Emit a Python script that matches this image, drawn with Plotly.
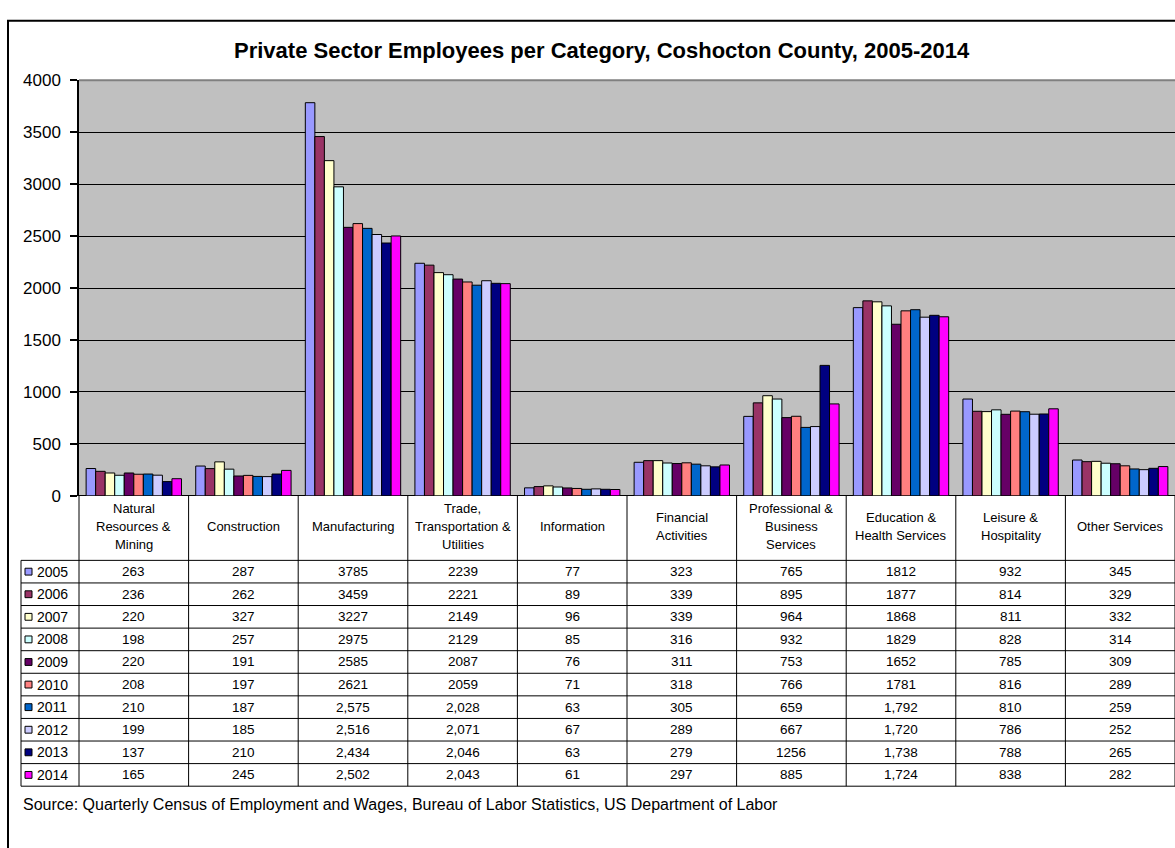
import plotly.graph_objects as go

W, H = 1175, 848

categories = [
    "Natural Resources & Mining", "Construction", "Manufacturing",
    "Trade, Transportation & Utilities", "Information", "Financial Activities",
    "Professional & Business Services", "Education & Health Services",
    "Leisure & Hospitality", "Other Services",
]
header_lines = [
    ["Natural", "Resources &", "Mining"], ["Construction"], ["Manufacturing"],
    ["Trade,", "Transportation &", "Utilities"], ["Information"],
    ["Financial", "Activities"], ["Professional &", "Business", "Services"],
    ["Education &", "Health Services"], ["Leisure &", "Hospitality"],
    ["Other Services"],
]
years = [2005, 2006, 2007, 2008, 2009, 2010, 2011, 2012, 2013, 2014]
v2005 = [263, 287, 3785, 2239, 77, 323, 765, 1812, 932, 345]
v2006 = [236, 262, 3459, 2221, 89, 339, 895, 1877, 814, 329]
v2007 = [220, 327, 3227, 2149, 96, 339, 964, 1868, 811, 332]
v2008 = [198, 257, 2975, 2129, 85, 316, 932, 1829, 828, 314]
v2009 = [220, 191, 2585, 2087, 76, 311, 753, 1652, 785, 309]
v2010 = [208, 197, 2621, 2059, 71, 318, 766, 1781, 816, 289]
v2011 = [210, 187, 2575, 2028, 63, 305, 659, 1792, 810, 259]
v2012 = [199, 185, 2516, 2071, 67, 289, 667, 1720, 786, 252]
v2013 = [137, 210, 2434, 2046, 63, 279, 1256, 1738, 788, 265]
v2014 = [165, 245, 2502, 2043, 61, 297, 885, 1724, 838, 282]
series = [v2005, v2006, v2007, v2008, v2009, v2010, v2011, v2012, v2013, v2014]
# table number formatting as printed in the source table
comma_years = [2011, 2012, 2013, 2014]
no_comma_cells = [(2013, "Professional & Business Services")]
colors = ["#9999FF", "#993366", "#FFFFCC", "#CCFFFF", "#660066",
          "#FF8080", "#0066CC", "#CCCCFF", "#000080", "#FF00FF"]

title = "Private Sector Employees per Category, Coshocton County, 2005-2014"
source = "Source: Quarterly Census of Employment and Wages, Bureau of Labor Statistics, US Department of Labor"

FONT = "Arial, Liberation Sans, sans-serif"

# layout geometry (pixels)
PL, PR = 79, 1175
PT, PB = 73, 498
TT = 564          # table data top
RH = 23.1         # row height
TL = 21           # legend column left
ncat = len(categories)
cw = (PR - PL) / ncat


def px(x):
    return x / W


def py(y):
    return 1 - y / H


fig = go.Figure()
for yr, vals, col in zip(years, series, colors):
    fig.add_trace(go.Bar(x=categories, y=vals, name=str(yr),
                         marker=dict(color=col, line=dict(color="black", width=1))))

shapes = []
annotations = []

# outer chart border
shapes.append(dict(type="rect", xref="paper", yref="paper",
                   x0=px(8), x1=px(1190), y0=py(870), y1=py(12),
                   line=dict(color="black", width=2)))
# plot area border (top gray)
shapes.append(dict(type="line", xref="paper", yref="paper",
                   x0=px(PL), x1=px(PR + 5), y0=py(PT), y1=py(PT),
                   line=dict(color="#808080", width=2)))

TB = TT + RH * len(years)
# vertical table lines
for k in range(ncat + 1):
    xk = PL + k * cw
    shapes.append(dict(type="line", xref="paper", yref="paper",
                       x0=px(xk), x1=px(xk), y0=py(PB), y1=py(TB),
                       line=dict(color="black", width=1)))
shapes.append(dict(type="line", xref="paper", yref="paper",
                   x0=px(TL), x1=px(TL), y0=py(TT), y1=py(TB),
                   line=dict(color="black", width=1)))
# horizontal table lines
for i in range(len(years) + 1):
    yy = TT + i * RH
    shapes.append(dict(type="line", xref="paper", yref="paper",
                       x0=px(TL), x1=px(PR + 5), y0=py(yy), y1=py(yy),
                       line=dict(color="black", width=1)))

# header labels (one annotation per line, Excel-like line spacing)
LS = 18.5
hc = 529
for k, lines in enumerate(header_lines):
    n = len(lines)
    for j, ln in enumerate(lines):
        yl = hc + (j - (n - 1) / 2) * LS
        annotations.append(dict(xref="paper", yref="paper", x=px(PL + (k + 0.5) * cw),
                                y=py(yl), text=ln, showarrow=False,
                                xanchor="center", yanchor="middle",
                                font=dict(family=FONT, size=13, color="black")))

# rows
for i, (yr, vals, col) in enumerate(zip(years, series, colors)):
    yc = TT + (i + 0.5) * RH
    shapes.append(dict(type="rect", xref="paper", yref="paper",
                       x0=px(25), x1=px(32), y0=py(yc + 3.5), y1=py(yc - 3.5),
                       fillcolor=col, line=dict(color="black", width=1)))
    annotations.append(dict(xref="paper", yref="paper", x=px(35), y=py(yc),
                            text=str(yr), showarrow=False, xanchor="left",
                            yanchor="middle",
                            font=dict(family=FONT, size=14, color="black")))
    for k, v in enumerate(vals):
        use_comma = yr in comma_years and (yr, categories[k]) not in no_comma_cells
        txt = f"{v:,}" if use_comma else str(v)
        annotations.append(dict(xref="paper", yref="paper", x=px(PL + (k + 0.5) * cw),
                                y=py(yc), text=txt, showarrow=False,
                                xanchor="center", yanchor="middle",
                                font=dict(family=FONT, size=13.5, color="black")))

annotations.append(dict(xref="paper", yref="paper", x=px(602), y=py(42),
                        text="<b>" + title + "</b>", showarrow=False,
                        xanchor="center", yanchor="middle",
                        font=dict(family=FONT, size=22, color="black")))
annotations.append(dict(xref="paper", yref="paper", x=px(21), y=py(814),
                        text=source, showarrow=False, xanchor="left",
                        yanchor="middle",
                        font=dict(family=FONT, size=16, color="black")))

fig.update_layout(
    width=W, height=H,
    margin=dict(l=0, r=0, t=0, b=0),
    paper_bgcolor="white",
    plot_bgcolor="#C0C0C0",
    barmode="group",
    bargap=0.13,
    bargroupgap=0,
    showlegend=False,
    shapes=shapes,
    annotations=annotations,
    xaxis=dict(domain=[px(PL), 1], range=[-0.5, ncat - 0.5],
               showticklabels=False, ticks="", showgrid=False,
               showline=False, zeroline=False, fixedrange=True),
    yaxis=dict(domain=[py(PB), py(PT)], range=[0, 4000], dtick=500,
               showgrid=True, gridcolor="black", gridwidth=1,
               zeroline=True, zerolinecolor="black", zerolinewidth=1,
               showline=True, linecolor="black", linewidth=1.5,
               ticks="outside", ticklen=7, tickcolor="black", tickwidth=1.5,
               ticklabelstandoff=6,
               tickfont=dict(family=FONT, size=17, color="black"),
               fixedrange=True),
)

fig.write_html(
    "out.html",
    config={"displayModeBar": False},
    post_script="document.body.style.margin='0';document.body.style.overflow='hidden';",
)
